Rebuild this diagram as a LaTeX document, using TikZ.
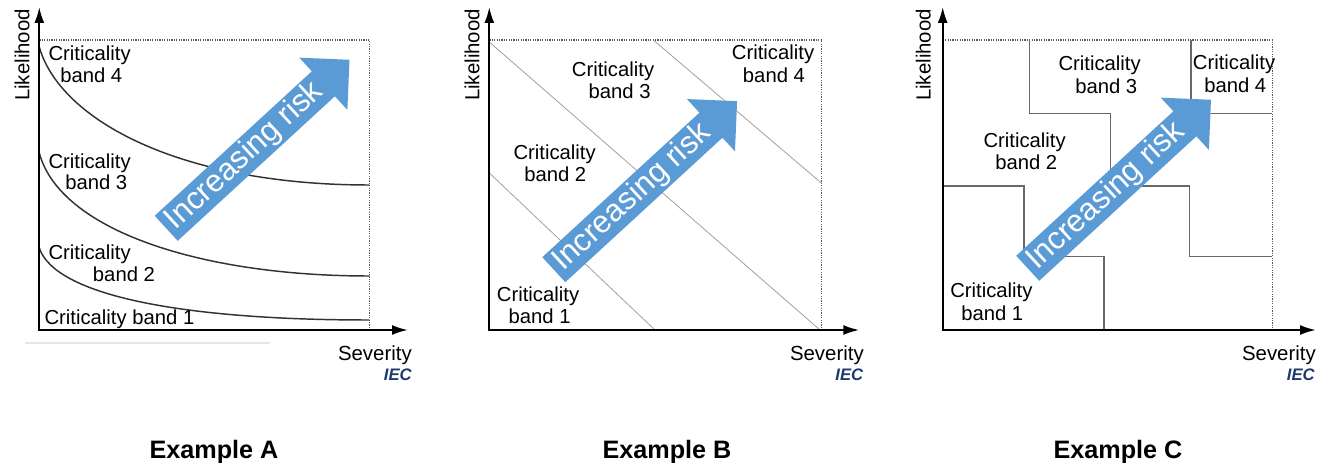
\documentclass[tikz,border=0pt]{standalone}
\usepackage{fontspec}
\setmainfont{Liberation Sans}
\usetikzlibrary{arrows.meta}
\definecolor{riskblue}{RGB}{91,155,213}
\definecolor{iecblue}{RGB}{31,56,110}
\definecolor{curvegray}{RGB}{50,50,50}
\definecolor{linegray}{RGB}{160,160,160}
\definecolor{stepgray}{RGB}{105,105,105}
\definecolor{dotgray}{RGB}{90,90,90}
\definecolor{faintgray}{RGB}{230,230,230}
\begin{document}
\begin{tikzpicture}[x=0.75pt,y=-0.75pt,
  axis/.style={line width=1.5pt, {Latex[length=12pt,width=7.5pt]}-{Latex[length=12pt,width=7.5pt]}},
  dotbox/.style={dotgray, line width=0.9pt, dash pattern=on 0.9pt off 0.9pt},
  bandcurve/.style={curvegray, line width=1.1pt},
  diagline/.style={linegray, line width=0.6pt},
  stepline/.style={stepgray, line width=0.8pt},
  band/.style={font=\fontsize{15.2pt}{16.5pt}\selectfont, inner sep=0pt, anchor=base west},
  axlabel/.style={font=\fontsize{15.3pt}{18pt}\selectfont, inner sep=0pt},
  ieclabel/.style={font=\fontsize{12.5pt}{14pt}\selectfont\bfseries\itshape, text=iecblue, inner sep=0pt, anchor=base east},
  exlabel/.style={font=\fontsize{18.9pt}{22pt}\selectfont\bfseries, inner sep=0pt, anchor=base},
  riskfill/.style={fill=riskblue},
  risktext/.style={text=white, font=\fontsize{23.5pt}{26pt}\selectfont, inner sep=0pt},
]
\useasboundingbox (0,0) rectangle (1325,463);

% ---------------- Example A ----------------
\coordinate (oA) at (39.3,330);
\coordinate (yA) at (39.3,7);
\coordinate (xA) at (408,330);
\coordinate (tlA) at (39.3,40);
\coordinate (trA) at (369.3,40);
\coordinate (brA) at (369.3,330);
\coordinate (gA1) at (25,343);
\coordinate (gA2) at (270,343);
\draw[faintgray, line width=0.8pt] (gA1) -- (gA2);
\draw[dotbox] (tlA) -- (trA) -- (brA);
\draw[bandcurve] (39.3,47) .. controls (60,120) and (180,185) .. (369.3,185);
\draw[bandcurve] (39.3,153) .. controls (60,230) and (200,276) .. (369.3,276);
\draw[bandcurve] (39.3,248) .. controls (55,295) and (180,320) .. (369.3,320);
\draw[axis] (yA) -- (oA) -- (xA);
\node[band] (a4a) at (48.3,61) {Criticality};
\node[band] (a4b) at (60,83) {band 4};
\node[band] (a3a) at (48.3,168.5) {Criticality};
\node[band] (a3b) at (65,190) {band 3};
\node[band] (a2a) at (48.3,260) {Criticality};
\node[band] (a2b) at (92.7,282) {band 2};
\node[band] (a1) at (44.3,325) {Criticality band 1};
\node[axlabel, rotate=90] (likA) at (22,55) {Likelihood};
\node[axlabel, anchor=base east] (sevA) at (412,361) {Severity};
\node[ieclabel] (iecA) at (412,380) {IEC};
\begin{scope}[shift={(166.2,228.3)}, rotate=42.6]
  \fill[riskfill] (0,-17) -- (213.5,-17) -- (213.5,-35.5) -- (249,0) -- (213.5,35.5) -- (213.5,17) -- (0,17) -- cycle;
  \node[risktext, rotate=42.6] (riskA) at (106.7,0) {Increasing risk};
\end{scope}
\node[exlabel] (exA) at (214,458) {Example A};

% ---------------- Example B ----------------
\coordinate (oB) at (489.3,330);
\coordinate (yB) at (489.3,7);
\coordinate (xB) at (859.3,330);
\coordinate (tlB) at (489.3,40);
\coordinate (trB) at (821.7,40);
\coordinate (brB) at (821.7,330);
\draw[dotbox] (tlB) -- (trB) -- (brB);
\coordinate (d1s) at (489.3,173);
\coordinate (d1e) at (655,330);
\coordinate (d2s) at (489.3,42);
\coordinate (d2e) at (820,330);
\coordinate (d3s) at (653.3,40);
\coordinate (d3e) at (821.7,183.3);
\draw[diagline] (d1s) -- (d1e);
\draw[diagline] (d2s) -- (d2e);
\draw[diagline] (d3s) -- (d3e);
\draw[axis] (yB) -- (oB) -- (xB);
\node[band] (b4a) at (731.7,60) {Criticality};
\node[band] (b4b) at (742.7,82.7) {band 4};
\node[band] (b3a) at (571.7,76.7) {Criticality};
\node[band] (b3b) at (588.3,98.3) {band 3};
\node[band] (b2a) at (513.3,159.3) {Criticality};
\node[band] (b2b) at (524,181.7) {band 2};
\node[band] (b1a) at (496.7,301.7) {Criticality};
\node[band] (b1b) at (508.3,324) {band 1};
\node[axlabel, rotate=90] (likB) at (472,55) {Likelihood};
\node[axlabel, anchor=base east] (sevB) at (864,361) {Severity};
\node[ieclabel] (iecB) at (863.5,380) {IEC};
\begin{scope}[shift={(553.8,269.7)}, rotate=42.6]
  \fill[riskfill] (0,-17) -- (213.5,-17) -- (213.5,-35.5) -- (249,0) -- (213.5,35.5) -- (213.5,17) -- (0,17) -- cycle;
  \node[risktext, rotate=42.6] (riskB) at (106.7,0) {Increasing risk};
\end{scope}
\node[exlabel] (exB) at (667,458) {Example B};

% ---------------- Example C ----------------
\coordinate (oC) at (942.7,330);
\coordinate (yC) at (942.7,7);
\coordinate (xC) at (1316,330);
\coordinate (tlC) at (942.7,40);
\coordinate (trC) at (1272.3,40);
\coordinate (brC) at (1272.3,330);
\draw[dotbox] (tlC) -- (trC) -- (brC);
\draw[stepline] (942.7,186) -- (1024,186) -- (1024,256.7) -- (1104,256.7) -- (1104,330);
\draw[stepline] (1029.3,40) -- (1029.3,113.3) -- (1110.7,113.3) -- (1110.7,186) -- (1189.3,186) -- (1189.3,256.7) -- (1272.3,256.7);
\draw[stepline] (1191,40) -- (1191,113.3) -- (1272.3,113.3);
\draw[axis] (yC) -- (oC) -- (xC);
\node[band] (c4a) at (1192.7,69.3) {Criticality};
\node[band] (c4b) at (1204,92.7) {band 4};
\node[band] (c3a) at (1058.3,70.7) {Criticality};
\node[band] (c3b) at (1075,94) {band 3};
\node[band] (c2a) at (983.3,147.3) {Criticality};
\node[band] (c2b) at (995,170) {band 2};
\node[band] (c1a) at (950,297.7) {Criticality};
\node[band] (c1b) at (961,320.7) {band 1};
\node[axlabel, rotate=90] (likC) at (923.3,55) {Likelihood};
\node[axlabel, anchor=base east] (sevC) at (1316,361) {Severity};
\node[ieclabel] (iecC) at (1315,380) {IEC};
\begin{scope}[shift={(1027.7,268.3)}, rotate=42.6]
  \fill[riskfill] (0,-17) -- (213.5,-17) -- (213.5,-35.5) -- (249,0) -- (213.5,35.5) -- (213.5,17) -- (0,17) -- cycle;
  \node[risktext, rotate=42.6] (riskC) at (106.7,0) {Increasing risk};
\end{scope}
\node[exlabel] (exC) at (1118,458) {Example C};
\end{tikzpicture}
\end{document}
